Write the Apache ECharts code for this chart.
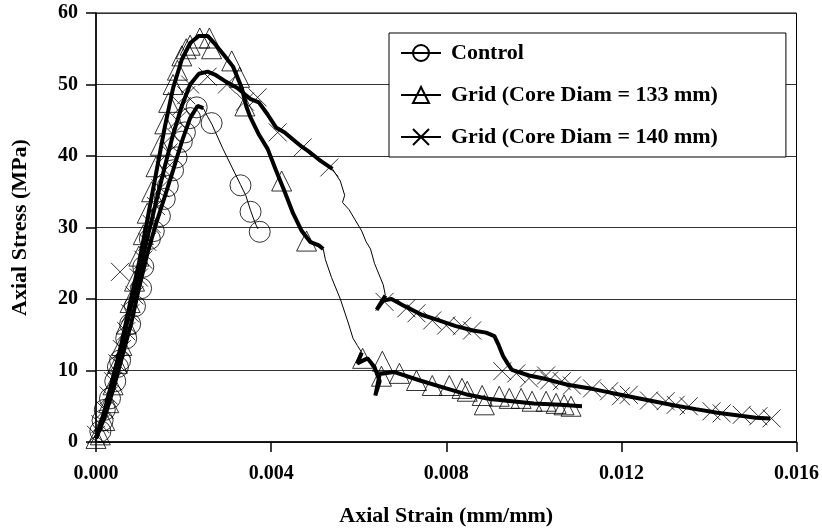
<html>
<head>
<meta charset="utf-8">
<title>Axial Stress vs Axial Strain</title>
<script src="https://cdn.jsdelivr.net/npm/echarts@6/dist/echarts.min.js"></script>
<style>
  html, body { margin: 0; padding: 0; background: #fff; }
  #main { width: 822px; height: 532px; }
</style>
</head>
<body>
<div id="main"></div>
<script type="text/javascript">
// axis ticks
var xTicks = { min: 0, max: 0.016, step: 0.004 };
var yTicks = { min: 0, max: 60, step: 10 };
var seriesNames = ['Control', 'Grid (Core Diam = 133 mm)', 'Grid (Core Diam = 140 mm)'];

// Control: [strain, stress]
var controlRise = [[0,0.5],[0.0002,3.5],[0.0004,7.5],[0.0006,12],[0.0008,16.5],[0.00098,21.5],[0.00118,26.5],[0.00137,30.5],[0.00157,34.3],[0.00176,38],[0.00196,42],[0.00215,45.3],[0.00232,47],[0.00245,46.7]];
var controlFall = [[0.00245,46.7],[0.00255,45.5],[0.00265,44.4],[0.0029,41],[0.00318,37.5],[0.0033,36],[0.00342,34.5],[0.00353,32.4],[0.0036,31.2],[0.00366,30.3],[0.0037,29.8]];
var controlMarks = [[0.0001,1.5],[0.00015,3],[0.0002,4.5],[0.00032,6.1],[0.00044,8.5],[0.0005,10.5],[0.00055,11.4],[0.00069,14.5],[0.00078,16.5],[0.00089,19],[0.00103,21.5],[0.00108,24.5],[0.00123,28.4],[0.00132,29.5],[0.00146,31.6],[0.00157,34],[0.00164,35.8],[0.00176,38],[0.00184,39.8],[0.00196,42],[0.00203,43.3],[0.00215,45.3],[0.0023,46.8],[0.00264,44.6],[0.0033,35.9],[0.00353,32.2],[0.00374,29.4]];

// Grid, core diameter 133 mm
var grid133Rise = [[0,0.5],[0.0002,4],[0.00039,9],[0.00059,14],[0.00078,19.5],[0.00098,25],[0.00117,31],[0.00137,37.5],[0.00157,44],[0.00176,49.5],[0.00196,53.5],[0.00215,55.8],[0.00235,56.8],[0.00255,56.8],[0.00274,55.5],[0.00294,54],[0.00313,52.5],[0.00333,49.5],[0.00343,47],[0.00352,45.5],[0.00372,43],[0.00392,41],[0.00411,38],[0.00431,35],[0.0045,32],[0.0047,29.5],[0.00489,28],[0.00509,27.5],[0.00519,27]];
var grid133Drop = [[0.00519,27],[0.00524,25.5],[0.00538,23],[0.00558,20],[0.00577,16.5],[0.00587,14.5],[0.00597,13.5],[0.00607,12.5]];
var grid133Tail = [[0.00607,12.5],[0.00597,11],[0.0062,11.7],[0.00636,10.5],[0.00648,8.5],[0.00638,6.5],[0.00648,9.5],[0.0068,9.8],[0.0074,8.6],[0.008,7.5],[0.0085,6.6],[0.009,6.0],[0.0095,5.7],[0.01,5.4],[0.0106,5.2],[0.0111,5.0]];
var grid133Marks = [[0,0.5],[0.0001,1],[0.0002,3],[0.00029,5.5],[0.00039,8],[0.00049,11],[0.00059,13.5],[0.00069,16.5],[0.00078,19.5],[0.00088,22.5],[0.00098,26],[0.00108,29],[0.00117,32],[0.00127,35],[0.00137,38.5],[0.00147,41.5],[0.00157,44.5],[0.00166,47.5],[0.00176,50],[0.00186,52],[0.00196,54],[0.00206,55],[0.00215,55.5],[0.00237,56.5],[0.00259,56.5],[0.00264,55],[0.0031,53.3],[0.00328,51],[0.0034,47],[0.00424,36.5],[0.00481,28.1],[0.00609,11.7],[0.00654,11.3],[0.00652,9.2],[0.00693,9.6],[0.00732,8.6],[0.00768,7.9],[0.00807,7.9],[0.00836,7.5],[0.00848,7.1],[0.00882,6.5],[0.00887,5.2],[0.00921,6.4],[0.00944,6.1],[0.00971,6.1],[0.00996,5.7],[0.01028,5.7],[0.01051,5.4],[0.01069,5.2],[0.01085,5.0]];

// Grid, core diameter 140 mm
var grid140Rise = [[0,0.5],[0.0002,4.5],[0.00039,9],[0.00059,13.5],[0.00078,18.5],[0.00098,23.5],[0.00117,28.5],[0.00137,33.5],[0.00157,38.5],[0.00176,43],[0.00196,47],[0.00215,50],[0.00235,51.5],[0.00255,51.8],[0.00274,51.3],[0.00294,50.5],[0.00323,49.5],[0.00352,48],[0.00372,47.5],[0.00392,45.8],[0.00411,44],[0.00431,43.3],[0.0045,42.3],[0.0047,41.3],[0.00489,40.5],[0.00509,39.5],[0.0054,38.2]];
var grid140Drop = [[0.0054,38.2],[0.00558,36.5],[0.00568,34.5],[0.00563,33.5],[0.00578,32.5],[0.00607,29.5],[0.00617,28],[0.00627,27],[0.00636,25],[0.00646,23.5],[0.00656,22],[0.00661,20.5]];
var grid140Tail = [[0.00661,20.5],[0.00646,19],[0.00641,18.5],[0.00656,19.8],[0.00675,20],[0.00705,19],[0.00744,17.8],[0.00783,17],[0.00822,16.2],[0.00861,15.6],[0.00891,15.3],[0.0091,14.8],[0.0092,13.5],[0.0093,12],[0.0094,11],[0.0095,10.1],[0.00989,9.3],[0.01028,8.8],[0.01077,8],[0.01136,7.4],[0.01175,6.9],[0.01224,6.3],[0.01273,5.7],[0.01322,5.1],[0.0137,4.6],[0.01419,4.1],[0.01468,3.7],[0.01507,3.4],[0.0154,3.3]];
var grid140Marks = [[0,1],[0.0001,2.5],[0.0002,4.5],[0.00029,6.5],[0.00039,8.5],[0.00049,11],[0.00059,13],[0.00069,15.5],[0.00078,18],[0.00088,20.5],[0.00055,23.8],[0.00098,23],[0.00108,25.5],[0.00117,28],[0.00127,30.5],[0.00137,33],[0.00147,35.5],[0.00157,38],[0.00166,40.5],[0.00176,43],[0.00186,45],[0.00196,47],[0.00206,48.5],[0.00215,50],[0.00255,51.1],[0.00299,50],[0.0034,47.6],[0.00369,48.2],[0.00415,43.3],[0.00472,41.2],[0.00533,38.4],[0.00659,19.6],[0.00709,18.7],[0.00732,18],[0.00768,17],[0.008,16.3],[0.00836,16.2],[0.00859,15.6],[0.00928,9.9],[0.0096,9.6],[0.00989,8.9],[0.01028,9.3],[0.01035,8.6],[0.01064,8.5],[0.01087,7.9],[0.01133,7.5],[0.01172,7.1],[0.01199,6.4],[0.01217,6.6],[0.01263,5.8],[0.01301,5.7],[0.01324,5.2],[0.01354,5.0],[0.01406,4.3],[0.01429,4.0],[0.01475,3.8],[0.01513,3.6],[0.01543,3.3]];

var serif = '"Liberation Serif", "Times New Roman", serif';
var crossPath = 'path://M0,0L10,10M10,0L0,10';
var clear = 'rgba(255,255,255,0)';

function thickLine(name, data, symbol) {
    return {
        name: name, type: 'line', data: data,
        symbol: symbol, showSymbol: false, symbolSize: 16,
        lineStyle: { color: '#000', width: 4 },
        itemStyle: { color: clear, borderColor: '#000', borderWidth: 1 },
        z: 3
    };
}
function thinLine(data) {
    return {
        type: 'line', data: data, symbol: 'none',
        lineStyle: { color: '#000', width: 1 },
        z: 3
    };
}
function marks(data, symbol, size) {
    return {
        type: 'scatter', data: data, symbol: symbol, symbolSize: size,
        itemStyle: { color: clear, borderColor: '#000', borderWidth: 1 },
        z: 4
    };
}

var myChart = echarts.init(document.getElementById('main'));

var option = {
    animation: false,
    backgroundColor: '#fff',
    grid: {
        left: 96, right: 24, top: 13, bottom: 88,
        show: true, borderColor: '#000', borderWidth: 1
    },
    legend: {
        data: seriesNames,
        orient: 'vertical',
        left: 389, top: 33,
        padding: [9, 68, 9, 11],
        itemWidth: 40, itemHeight: 20, itemGap: 20,
        backgroundColor: '#fff',
        borderColor: '#000', borderWidth: 1,
        textStyle: { fontFamily: serif, fontWeight: 'bold', fontSize: 22, color: '#000', padding: [0, 0, 0, 5] }
    },
    xAxis: {
        type: 'value',
        min: xTicks.min, max: xTicks.max, interval: xTicks.step,
        name: 'Axial Strain (mm/mm)',
        nameLocation: 'middle', nameGap: 63,
        nameTextStyle: { fontFamily: serif, fontWeight: 'bold', fontSize: 22, color: '#000' },
        axisLine: { lineStyle: { color: '#000', width: 1.5 } },
        axisTick: { length: 10, lineStyle: { color: '#000', width: 1.5 } },
        axisLabel: {
            margin: 22, fontFamily: serif, fontWeight: 'bold', fontSize: 20, color: '#000',
            formatter: function (v) { return v.toFixed(3); }
        },
        splitLine: { show: false }
    },
    yAxis: {
        type: 'value',
        min: yTicks.min, max: yTicks.max, interval: yTicks.step,
        name: 'Axial Stress (MPa)',
        nameLocation: 'middle', nameGap: 65,
        nameTextStyle: { fontFamily: serif, fontWeight: 'bold', fontSize: 22, color: '#000' },
        axisLine: { show: true, lineStyle: { color: '#000', width: 1.5 } },
        axisTick: { show: true, length: 10, lineStyle: { color: '#000', width: 1.5 } },
        axisLabel: { margin: 18, fontFamily: serif, fontWeight: 'bold', fontSize: 20, color: '#000' },
        splitLine: { lineStyle: { color: '#333', width: 1.2 } }
    },
    series: [
        thickLine(seriesNames[0], controlRise, 'circle'),
        thinLine(controlFall),
        marks(controlMarks, 'circle', 21),
        thickLine(seriesNames[1], grid133Rise, 'triangle'),
        thinLine(grid133Drop),
        thickLine(seriesNames[1], grid133Tail, 'triangle'),
        marks(grid133Marks, 'triangle', 20),
        thickLine(seriesNames[2], grid140Rise, crossPath),
        thinLine(grid140Drop),
        thickLine(seriesNames[2], grid140Tail, crossPath),
        marks(grid140Marks, crossPath, 18)
    ]
};

myChart.setOption(option);
</script>
</body>
</html>
